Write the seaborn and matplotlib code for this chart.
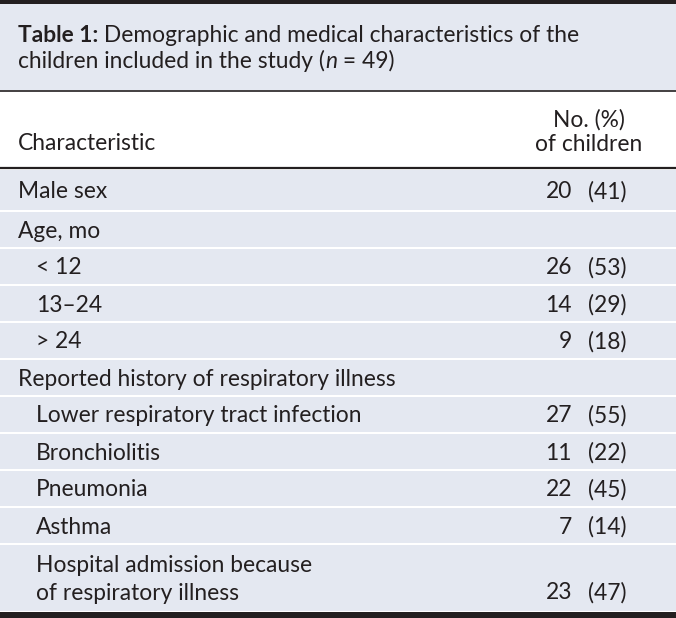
import matplotlib
matplotlib.use("Agg")
import matplotlib.pyplot as plt
import seaborn as sns
from matplotlib.patches import Rectangle

# table content
title_bold = "Table 1:"
title_rest = " Demographic and medical characteristics of the"
title_line2 = ["children included in the study (", "n", " = 49)"]
head_left = "Characteristic"
head_right = "No. (%)\nof children"
labels = ["Male sex", "Age, mo", "< 12", "13\u201324", "> 24",
          "Reported history of respiratory illness",
          "Lower respiratory tract infection", "Bronchiolitis", "Pneumonia",
          "Asthma", "Hospital admission because\nof respiratory illness"]
indent = [0, 0, 1, 1, 1, 0, 1, 1, 1, 1, 1]
counts = [20, None, 26, 14, 9, None, 27, 11, 22, 7, 23]
percents = [41, None, 53, 29, 18, None, 55, 22, 45, 14, 47]

sns.set_theme(style="white")
plt.rcParams['font.family'] = ['Lato', 'DejaVu Sans']
FS = 16.4
ink = '#231f20'
band = '#e4e8f1'

fig = plt.figure(figsize=(6.76, 6.18), dpi=100)
ax = fig.add_axes([0, 0, 1, 1])
ax.set_xlim(0, 676)
ax.set_ylim(618, 0)
ax.axis('off')
renderer = fig.canvas.get_renderer()

# title panel
ax.add_patch(Rectangle((0, 0), 676, 90, color=band, lw=0))
ax.add_patch(Rectangle((0, 0), 676, 4, color=ink, lw=0))
ax.plot([0, 676], [90.5, 90.5], color=ink, lw=1.2)


def runs(x, y, parts):
    for txt, kw in parts:
        t = ax.text(x, y, txt, fontsize=FS, color=ink, va='center', ha='left', **kw)
        x += t.get_window_extent(renderer).width


runs(18, 36, [(title_bold, {'fontweight': 'bold'}), (title_rest, {})])
runs(18, 61, [(title_line2[0], {}), (title_line2[1], {'style': 'italic'}),
              (title_line2[2], {})])

# column headers
ax.text(18, 144, head_left, fontsize=FS, color=ink, va='center')
ax.text(589, 132.5, head_right, fontsize=FS, color=ink, va='center', ha='center',
        linespacing=1.2)
ax.plot([0, 676], [167.5, 167.5], color=ink, lw=1.6)

# body rows
top = 169
for i, lab in enumerate(labels):
    nl = lab.count("\n") + 1
    h = 42 if i == 0 else (37 if nl == 1 else 68)
    ax.add_patch(Rectangle((0, top + 1), 676, h - 2, color=band, lw=0))
    yc = top + h / 2 + 1.5
    ax.text(18 + 18 * indent[i], yc, lab, fontsize=FS, color=ink, va='center',
            linespacing=1.4)
    if counts[i] is not None:
        yn = yc + (13 if nl > 1 else 0)
        ax.text(572, yn, str(counts[i]), fontsize=FS, color=ink, va='center', ha='right')
        ax.text(588, yn, f"({percents[i]})", fontsize=FS, color=ink, va='center', ha='left')
    top += h

ax.add_patch(Rectangle((0, 612), 676, 6, color=ink, lw=0))

fig.savefig("out.png", dpi=100)
